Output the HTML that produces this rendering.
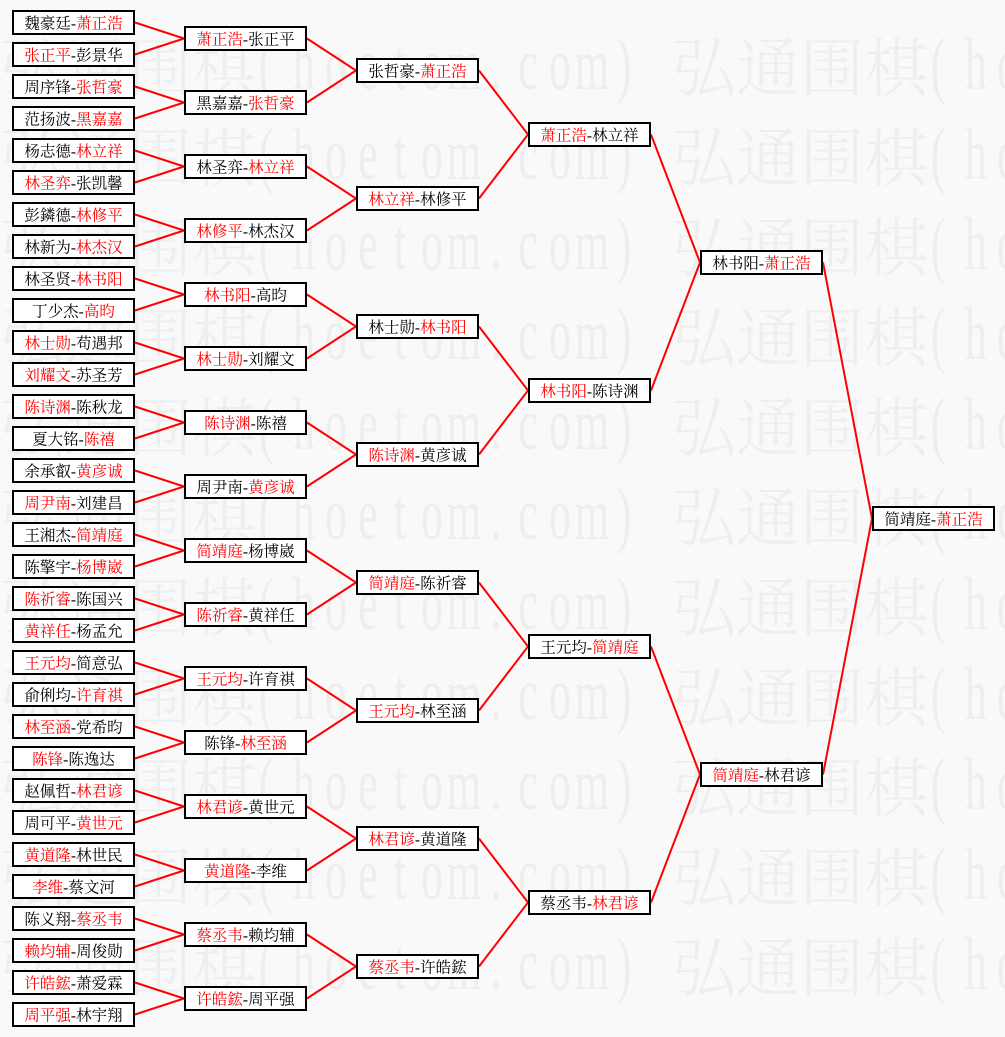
<!DOCTYPE html>
<html><head><meta charset="utf-8"><style>
html,body{margin:0;padding:0;background:#f9f9f9;width:1005px;height:1037px;overflow:hidden;}
svg{display:block;}
</style></head><body>
<svg xmlns="http://www.w3.org/2000/svg" width="1005" height="1037" viewBox="0 0 1005 1037" overflow="hidden">
<rect width="1005" height="1037" fill="#f9f9f9"/>
<g fill="#eeeeee" font-family="'Noto Serif CJK SC',serif" font-weight="300" font-size="64" text-anchor="middle">
<text y="91" x="32 96 160 224 704 768 832 896">弘通围棋弘通围棋</text>
<text y="181" x="32 96 160 224 704 768 832 896">弘通围棋弘通围棋</text>
<text y="271" x="32 96 160 224 704 768 832 896">弘通围棋弘通围棋</text>
<text y="361" x="32 96 160 224 704 768 832 896">弘通围棋弘通围棋</text>
<text y="451" x="32 96 160 224 704 768 832 896">弘通围棋弘通围棋</text>
<text y="541" x="32 96 160 224 704 768 832 896">弘通围棋弘通围棋</text>
<text y="631" x="32 96 160 224 704 768 832 896">弘通围棋弘通围棋</text>
<text y="721" x="32 96 160 224 704 768 832 896">弘通围棋弘通围棋</text>
<text y="811" x="32 96 160 224 704 768 832 896">弘通围棋弘通围棋</text>
<text y="901" x="32 96 160 224 704 768 832 896">弘通围棋弘通围棋</text>
<text y="991" x="32 96 160 224 704 768 832 896">弘通围棋弘通围棋</text>
</g>
<g fill="#eeeeee" font-family="'Liberation Serif',serif" font-size="74" text-anchor="middle" transform="scale(0.6,1)">
<text y="89" x="443.33 506.67 560 613.33 666.67 720 773.33 826.67 880 933.33 986.67 1040 1563.33 1626.67 1680">(hoetom.com)(ho</text>
<text y="179" x="443.33 506.67 560 613.33 666.67 720 773.33 826.67 880 933.33 986.67 1040 1563.33 1626.67 1680">(hoetom.com)(ho</text>
<text y="269" x="443.33 506.67 560 613.33 666.67 720 773.33 826.67 880 933.33 986.67 1040 1563.33 1626.67 1680">(hoetom.com)(ho</text>
<text y="359" x="443.33 506.67 560 613.33 666.67 720 773.33 826.67 880 933.33 986.67 1040 1563.33 1626.67 1680">(hoetom.com)(ho</text>
<text y="449" x="443.33 506.67 560 613.33 666.67 720 773.33 826.67 880 933.33 986.67 1040 1563.33 1626.67 1680">(hoetom.com)(ho</text>
<text y="539" x="443.33 506.67 560 613.33 666.67 720 773.33 826.67 880 933.33 986.67 1040 1563.33 1626.67 1680">(hoetom.com)(ho</text>
<text y="629" x="443.33 506.67 560 613.33 666.67 720 773.33 826.67 880 933.33 986.67 1040 1563.33 1626.67 1680">(hoetom.com)(ho</text>
<text y="719" x="443.33 506.67 560 613.33 666.67 720 773.33 826.67 880 933.33 986.67 1040 1563.33 1626.67 1680">(hoetom.com)(ho</text>
<text y="809" x="443.33 506.67 560 613.33 666.67 720 773.33 826.67 880 933.33 986.67 1040 1563.33 1626.67 1680">(hoetom.com)(ho</text>
<text y="899" x="443.33 506.67 560 613.33 666.67 720 773.33 826.67 880 933.33 986.67 1040 1563.33 1626.67 1680">(hoetom.com)(ho</text>
<text y="989" x="443.33 506.67 560 613.33 666.67 720 773.33 826.67 880 933.33 986.67 1040 1563.33 1626.67 1680">(hoetom.com)(ho</text>
</g>

<g fill="none" stroke="#f00" stroke-width="2">
<polyline points="135,22.5 184,38.5 135,54.5"/>
<polyline points="135,86.5 184,102.5 135,118.5"/>
<polyline points="135,150.5 184,166.5 135,182.5"/>
<polyline points="135,214.5 184,230.5 135,246.5"/>
<polyline points="135,278.5 184,294.5 135,310.5"/>
<polyline points="135,342.5 184,358.5 135,374.5"/>
<polyline points="135,406.5 184,422.5 135,438.5"/>
<polyline points="135,470.5 184,486.5 135,502.5"/>
<polyline points="135,534.5 184,550.5 135,566.5"/>
<polyline points="135,598.5 184,614.5 135,630.5"/>
<polyline points="135,662.5 184,678.5 135,694.5"/>
<polyline points="135,726.5 184,742.5 135,758.5"/>
<polyline points="135,790.5 184,806.5 135,822.5"/>
<polyline points="135,854.5 184,870.5 135,886.5"/>
<polyline points="135,918.5 184,934.5 135,950.5"/>
<polyline points="135,982.5 184,998.5 135,1014.5"/>
<polyline points="307,38.5 356,70.5 307,102.5"/>
<polyline points="307,166.5 356,198.5 307,230.5"/>
<polyline points="307,294.5 356,326.5 307,358.5"/>
<polyline points="307,422.5 356,454.5 307,486.5"/>
<polyline points="307,550.5 356,582.5 307,614.5"/>
<polyline points="307,678.5 356,710.5 307,742.5"/>
<polyline points="307,806.5 356,838.5 307,870.5"/>
<polyline points="307,934.5 356,966.5 307,998.5"/>
<polyline points="479,70.5 528,134.5 479,198.5"/>
<polyline points="479,326.5 528,390.5 479,454.5"/>
<polyline points="479,582.5 528,646.5 479,710.5"/>
<polyline points="479,838.5 528,902.5 479,966.5"/>
<polyline points="651,134.5 700,262.5 651,390.5"/>
<polyline points="651,646.5 700,774.5 651,902.5"/>
<polyline points="823,262.5 872,518.5 823,774.5"/>
</g>

<g fill="#fff" stroke="#000" stroke-width="2">
<rect x="13" y="11" width="121" height="23"/>
<rect x="13" y="43" width="121" height="23"/>
<rect x="13" y="75" width="121" height="23"/>
<rect x="13" y="107" width="121" height="23"/>
<rect x="13" y="139" width="121" height="23"/>
<rect x="13" y="171" width="121" height="23"/>
<rect x="13" y="203" width="121" height="23"/>
<rect x="13" y="235" width="121" height="23"/>
<rect x="13" y="267" width="121" height="23"/>
<rect x="13" y="299" width="121" height="23"/>
<rect x="13" y="331" width="121" height="23"/>
<rect x="13" y="363" width="121" height="23"/>
<rect x="13" y="395" width="121" height="23"/>
<rect x="13" y="427" width="121" height="23"/>
<rect x="13" y="459" width="121" height="23"/>
<rect x="13" y="491" width="121" height="23"/>
<rect x="13" y="523" width="121" height="23"/>
<rect x="13" y="555" width="121" height="23"/>
<rect x="13" y="587" width="121" height="23"/>
<rect x="13" y="619" width="121" height="23"/>
<rect x="13" y="651" width="121" height="23"/>
<rect x="13" y="683" width="121" height="23"/>
<rect x="13" y="715" width="121" height="23"/>
<rect x="13" y="747" width="121" height="23"/>
<rect x="13" y="779" width="121" height="23"/>
<rect x="13" y="811" width="121" height="23"/>
<rect x="13" y="843" width="121" height="23"/>
<rect x="13" y="875" width="121" height="23"/>
<rect x="13" y="907" width="121" height="23"/>
<rect x="13" y="939" width="121" height="23"/>
<rect x="13" y="971" width="121" height="23"/>
<rect x="13" y="1003" width="121" height="23"/>

<rect x="185" y="27" width="121" height="23"/>
<rect x="185" y="91" width="121" height="23"/>
<rect x="185" y="155" width="121" height="23"/>
<rect x="185" y="219" width="121" height="23"/>
<rect x="185" y="283" width="121" height="23"/>
<rect x="185" y="347" width="121" height="23"/>
<rect x="185" y="411" width="121" height="23"/>
<rect x="185" y="475" width="121" height="23"/>
<rect x="185" y="539" width="121" height="23"/>
<rect x="185" y="603" width="121" height="23"/>
<rect x="185" y="667" width="121" height="23"/>
<rect x="185" y="731" width="121" height="23"/>
<rect x="185" y="795" width="121" height="23"/>
<rect x="185" y="859" width="121" height="23"/>
<rect x="185" y="923" width="121" height="23"/>
<rect x="185" y="987" width="121" height="23"/>

<rect x="357" y="59" width="121" height="23"/>
<rect x="357" y="187" width="121" height="23"/>
<rect x="357" y="315" width="121" height="23"/>
<rect x="357" y="443" width="121" height="23"/>
<rect x="357" y="571" width="121" height="23"/>
<rect x="357" y="699" width="121" height="23"/>
<rect x="357" y="827" width="121" height="23"/>
<rect x="357" y="955" width="121" height="23"/>

<rect x="529" y="123" width="121" height="23"/>
<rect x="529" y="379" width="121" height="23"/>
<rect x="529" y="635" width="121" height="23"/>
<rect x="529" y="891" width="121" height="23"/>

<rect x="701" y="251" width="121" height="23"/>
<rect x="701" y="763" width="121" height="23"/>

<rect x="873" y="507" width="121" height="23"/>
</g>

<g font-family="'Liberation Serif','Noto Serif CJK SC',serif" font-size="15.5" text-anchor="middle" fill="#000">
<text x="73.5" y="28.5">魏豪廷-<tspan fill="#f00">萧正浩</tspan></text>
<text x="73.5" y="60.5"><tspan fill="#f00">张正平</tspan>-彭景华</text>
<text x="73.5" y="92.5">周序锋-<tspan fill="#f00">张哲豪</tspan></text>
<text x="73.5" y="124.5">范扬波-<tspan fill="#f00">黑嘉嘉</tspan></text>
<text x="73.5" y="156.5">杨志德-<tspan fill="#f00">林立祥</tspan></text>
<text x="73.5" y="188.5"><tspan fill="#f00">林圣弈</tspan>-张凯馨</text>
<text x="73.5" y="220.5">彭鏻德-<tspan fill="#f00">林修平</tspan></text>
<text x="73.5" y="252.5">林新为-<tspan fill="#f00">林杰汉</tspan></text>
<text x="73.5" y="284.5">林圣贤-<tspan fill="#f00">林书阳</tspan></text>
<text x="73.5" y="316.5">丁少杰-<tspan fill="#f00">高昀</tspan></text>
<text x="73.5" y="348.5"><tspan fill="#f00">林士勋</tspan>-苟遇邦</text>
<text x="73.5" y="380.5"><tspan fill="#f00">刘耀文</tspan>-苏圣芳</text>
<text x="73.5" y="412.5"><tspan fill="#f00">陈诗渊</tspan>-陈秋龙</text>
<text x="73.5" y="444.5">夏大铭-<tspan fill="#f00">陈禧</tspan></text>
<text x="73.5" y="476.5">余承叡-<tspan fill="#f00">黄彦诚</tspan></text>
<text x="73.5" y="508.5"><tspan fill="#f00">周尹南</tspan>-刘建昌</text>
<text x="73.5" y="540.5">王湘杰-<tspan fill="#f00">简靖庭</tspan></text>
<text x="73.5" y="572.5">陈擎宇-<tspan fill="#f00">杨博崴</tspan></text>
<text x="73.5" y="604.5"><tspan fill="#f00">陈祈睿</tspan>-陈国兴</text>
<text x="73.5" y="636.5"><tspan fill="#f00">黄祥任</tspan>-杨孟允</text>
<text x="73.5" y="668.5"><tspan fill="#f00">王元均</tspan>-简意弘</text>
<text x="73.5" y="700.5">俞俐均-<tspan fill="#f00">许育祺</tspan></text>
<text x="73.5" y="732.5"><tspan fill="#f00">林至涵</tspan>-党希昀</text>
<text x="73.5" y="764.5"><tspan fill="#f00">陈锋</tspan>-陈逸达</text>
<text x="73.5" y="796.5">赵佩哲-<tspan fill="#f00">林君谚</tspan></text>
<text x="73.5" y="828.5">周可平-<tspan fill="#f00">黄世元</tspan></text>
<text x="73.5" y="860.5"><tspan fill="#f00">黄道隆</tspan>-林世民</text>
<text x="73.5" y="892.5"><tspan fill="#f00">李维</tspan>-蔡文河</text>
<text x="73.5" y="924.5">陈义翔-<tspan fill="#f00">蔡丞韦</tspan></text>
<text x="73.5" y="956.5"><tspan fill="#f00">赖均辅</tspan>-周俊勋</text>
<text x="73.5" y="988.5"><tspan fill="#f00">许皓鋐</tspan>-萧爱霖</text>
<text x="73.5" y="1020.5"><tspan fill="#f00">周平强</tspan>-林宇翔</text>

<text x="245.5" y="44.5"><tspan fill="#f00">萧正浩</tspan>-张正平</text>
<text x="245.5" y="108.5">黑嘉嘉-<tspan fill="#f00">张哲豪</tspan></text>
<text x="245.5" y="172.5">林圣弈-<tspan fill="#f00">林立祥</tspan></text>
<text x="245.5" y="236.5"><tspan fill="#f00">林修平</tspan>-林杰汉</text>
<text x="245.5" y="300.5"><tspan fill="#f00">林书阳</tspan>-高昀</text>
<text x="245.5" y="364.5"><tspan fill="#f00">林士勋</tspan>-刘耀文</text>
<text x="245.5" y="428.5"><tspan fill="#f00">陈诗渊</tspan>-陈禧</text>
<text x="245.5" y="492.5">周尹南-<tspan fill="#f00">黄彦诚</tspan></text>
<text x="245.5" y="556.5"><tspan fill="#f00">简靖庭</tspan>-杨博崴</text>
<text x="245.5" y="620.5"><tspan fill="#f00">陈祈睿</tspan>-黄祥任</text>
<text x="245.5" y="684.5"><tspan fill="#f00">王元均</tspan>-许育祺</text>
<text x="245.5" y="748.5">陈锋-<tspan fill="#f00">林至涵</tspan></text>
<text x="245.5" y="812.5"><tspan fill="#f00">林君谚</tspan>-黄世元</text>
<text x="245.5" y="876.5"><tspan fill="#f00">黄道隆</tspan>-李维</text>
<text x="245.5" y="940.5"><tspan fill="#f00">蔡丞韦</tspan>-赖均辅</text>
<text x="245.5" y="1004.5"><tspan fill="#f00">许皓鋐</tspan>-周平强</text>

<text x="417.5" y="76.5">张哲豪-<tspan fill="#f00">萧正浩</tspan></text>
<text x="417.5" y="204.5"><tspan fill="#f00">林立祥</tspan>-林修平</text>
<text x="417.5" y="332.5">林士勋-<tspan fill="#f00">林书阳</tspan></text>
<text x="417.5" y="460.5"><tspan fill="#f00">陈诗渊</tspan>-黄彦诚</text>
<text x="417.5" y="588.5"><tspan fill="#f00">简靖庭</tspan>-陈祈睿</text>
<text x="417.5" y="716.5"><tspan fill="#f00">王元均</tspan>-林至涵</text>
<text x="417.5" y="844.5"><tspan fill="#f00">林君谚</tspan>-黄道隆</text>
<text x="417.5" y="972.5"><tspan fill="#f00">蔡丞韦</tspan>-许皓鋐</text>

<text x="589.5" y="140.5"><tspan fill="#f00">萧正浩</tspan>-林立祥</text>
<text x="589.5" y="396.5"><tspan fill="#f00">林书阳</tspan>-陈诗渊</text>
<text x="589.5" y="652.5">王元均-<tspan fill="#f00">简靖庭</tspan></text>
<text x="589.5" y="908.5">蔡丞韦-<tspan fill="#f00">林君谚</tspan></text>

<text x="761.5" y="268.5">林书阳-<tspan fill="#f00">萧正浩</tspan></text>
<text x="761.5" y="780.5"><tspan fill="#f00">简靖庭</tspan>-林君谚</text>

<text x="933.5" y="524.5">简靖庭-<tspan fill="#f00">萧正浩</tspan></text>
</g>
</svg>
</body></html>
